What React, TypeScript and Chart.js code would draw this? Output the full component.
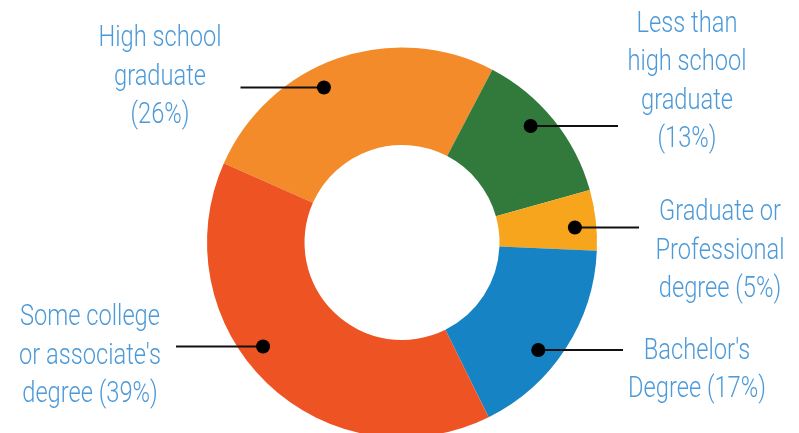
import React, { useEffect, useRef } from "react";
import { Chart, registerables } from "chart.js";

Chart.register(...registerables);

// Data (clockwise from the top-left orange slice)
const categories = [
  "High school graduate",
  "Less than high school graduate",
  "Graduate or Professional degree",
  "Bachelor's Degree",
  "Some college or associate's degree",
];
const shares = [26, 13, 5, 17, 39];
const labelLines = [
  ["High school", "graduate", "(26%)"],
  ["Less than", "high school", "graduate", "(13%)"],
  ["Graduate or", "Professional", "degree (5%)"],
  ["Bachelor's", "Degree (17%)"],
  ["Some college", "or associate's", "degree (39%)"],
];
const colors = ["#F38B2A", "#327A3B", "#F6A51D", "#1683C5", "#EE5423"];

// Layout of the callouts (pixels)
const labelCenterX = [160, 687, 720, 697, 90];
const labelFirstBaseline = [46, 31.5, 220, 358.5, 325];
const lineDy = [-155, -116.5, -15, 107.5, 104]; // leader line y relative to the chart centre
const lineEndX = [240.5, 618, 639, 623, 176];
const LINE_HEIGHT = 38.5;
const TEXT_COLOR = "#4D9AD8";
const FONT = '300 30px "Roboto", "Liberation Sans", sans-serif';
const REF_TEXT = "High school";
const REF_WIDTH = 123; // condensed face: target width of the reference string

const calloutPlugin = {
  id: "callouts",
  afterDatasetsDraw(chart: any) {
    const ctx = chart.ctx;
    const meta = chart.getDatasetMeta(0);
    ctx.save();
    ctx.font = FONT;
    const sx = REF_WIDTH / ctx.measureText(REF_TEXT).width;
    meta.data.forEach((arc: any, i: number) => {
      const p = arc.getProps(["x", "y", "startAngle", "endAngle", "innerRadius", "outerRadius"], true);
      const mid = (p.startAngle + p.endAngle) / 2;
      const r = p.innerRadius + 0.78 * (p.outerRadius - p.innerRadius);
      const dy = lineDy[i];
      const dx = Math.sqrt(Math.max(r * r - dy * dy, 0)) * (Math.cos(mid) >= 0 ? 1 : -1);
      const dotX = p.x + dx;
      const dotY = p.y + dy;
      // leader line
      ctx.strokeStyle = "#111111";
      ctx.lineWidth = 2;
      ctx.beginPath();
      ctx.moveTo(dotX, dotY);
      ctx.lineTo(lineEndX[i], dotY);
      ctx.stroke();
      // dot
      ctx.fillStyle = "#000000";
      ctx.beginPath();
      ctx.arc(dotX, dotY, 7, 0, Math.PI * 2);
      ctx.fill();
      // text (horizontally condensed)
      ctx.fillStyle = TEXT_COLOR;
      ctx.font = FONT;
      ctx.textAlign = "center";
      ctx.textBaseline = "alphabetic";
      labelLines[i].forEach((t, j) => {
        ctx.save();
        ctx.translate(labelCenterX[i], labelFirstBaseline[i] + j * LINE_HEIGHT);
        ctx.scale(sx, 1);
        ctx.fillText(t, 0, 0);
        ctx.restore();
      });
    });
    ctx.restore();
  },
};

export default function App() {
  const ref = useRef<HTMLCanvasElement | null>(null);
  useEffect(() => {
    if (!ref.current) return;
    const chart = new Chart(ref.current, {
      type: "doughnut",
      data: {
        labels: categories,
        datasets: [
          {
            data: shares,
            backgroundColor: colors,
            borderWidth: 0,
            hoverOffset: 0,
          },
        ],
      },
      options: {
        responsive: false,
        animation: false,
        devicePixelRatio: 1,
        rotation: -66,
        cutout: "50%",
        layout: { padding: { left: 207, right: 202, top: 47.5, bottom: 42.5 } },
        plugins: {
          legend: { display: false },
          tooltip: { enabled: false },
        },
        events: [],
      },
      plugins: [calloutPlugin],
    });
    return () => chart.destroy();
  }, []);
  return (
    <div style={{ position: "absolute", left: 0, top: 0, width: 799, height: 433, overflow: "hidden", background: "#fff" }}>
      <canvas ref={ref} width={799} height={480} style={{ display: "block" }} />
    </div>
  );
}
